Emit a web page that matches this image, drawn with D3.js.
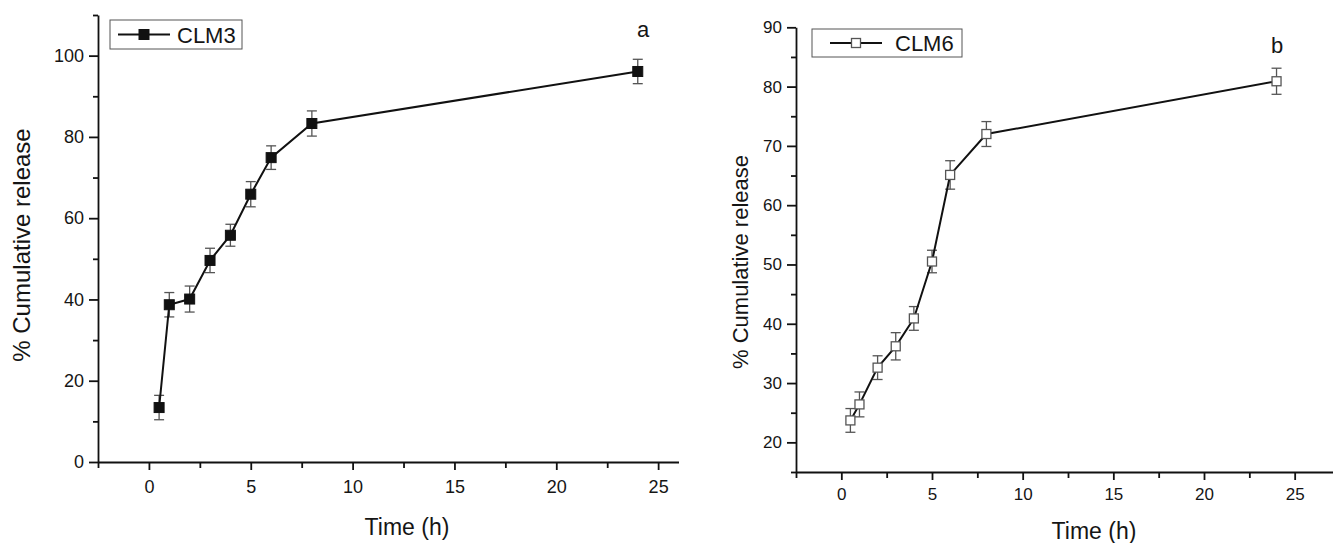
<!DOCTYPE html>
<html>
<head>
<meta charset="utf-8">
<script src="https://cdn.jsdelivr.net/npm/d3@7"></script>
<style>
  body { margin: 0; background: #fff; }
  svg text { font-family: "Liberation Sans", Arial, sans-serif; fill: #151515; }
</style>
</head>
<body>
<div id="release"></div>
<script>
// sampling times (h)
const time = [0.5, 1, 2, 3, 4, 5, 6, 8, 24]

// CLM3 (panel a)
const clm3 = [13.4, 38.7, 40.1, 49.6, 55.8, 65.9, 74.9, 83.3, 96.1]
const clm3_err = [3.0, 3.0, 3.2, 3.0, 2.7, 3.1, 2.9, 3.1, 3.0]

// CLM6 (panel b)
const clm6 = [23.7, 26.4, 32.6, 36.2, 40.9, 50.5, 65.1, 72.0, 80.9]
const clm6_err = [2.0, 2.1, 2.0, 2.3, 2.0, 1.9, 2.4, 2.1, 2.2]

const x_ticks = [0, 5, 10, 15, 20, 25]
const y_ticks_a = [0, 20, 40, 60, 80, 100]
const y_ticks_b = [20, 30, 40, 50, 60, 70, 80, 90]

const width = 1333, height = 543

const svg = d3.select("#release")
    .append("svg")
    .attr("width", width)
    .attr("height", height)
    .attr("viewBox", "0 0 " + width + " " + height)

// panel settings
const panels = [
    {
        name: "CLM3", letter: "a", values: clm3, err: clm3_err, filled: true,
        x: d3.scaleLinear().domain([-2.5, 26]).range([98, 678.5]),
        y: d3.scaleLinear().domain([0, 110]).range([462, 15]),
        yTicks: y_ticks_a, yMinor: d3.range(10, 111, 20),
        font: 18, titleFont: 24, titleX: 22, titleY: 245,
        xTitle: [407, 535], labelPad: 10,
        legend: { x: 110, y: 20, w: 132, h: 29 },
        letterPos: [643, 37]
    },
    {
        name: "CLM6", letter: "b", values: clm6, err: clm6_err, filled: false,
        x: d3.scaleLinear().domain([-2.5, 27.5]).range([796, 1340]),
        y: d3.scaleLinear().domain([15, 90]).range([472, 27.3]),
        yTicks: y_ticks_b, yMinor: d3.range(15, 90, 10),
        font: 17, titleFont: 22, titleX: 740, titleY: 262,
        xTitle: [1094, 539], labelPad: 8,
        legend: { x: 812, y: 29, w: 150, h: 28 },
        letterPos: [1277, 53]
    }
]

panels.forEach(function (p) {
    const g = svg.append("g")
    const x0 = p.x.range()[0], y0 = p.y.range()[0]

    // x axis, majors and minors
    const xa = g.append("g").attr("transform", "translate(0," + y0 + ")")
        .call(d3.axisBottom(p.x).tickValues(x_ticks).tickSize(8).tickPadding(p.labelPad).tickSizeOuter(0))
    xa.selectAll("text").style("font-size", p.font + "px")
    g.append("g").attr("transform", "translate(0," + y0 + ")")
        .call(d3.axisBottom(p.x).tickValues(d3.range(-2.5, 26, 5)).tickSize(6).tickFormat("").tickSizeOuter(0))
        .select(".domain").remove()

    // y axis
    const ya = g.append("g").attr("transform", "translate(" + x0 + ",0)")
        .call(d3.axisLeft(p.y).tickValues(p.yTicks).tickSize(9).tickPadding(5).tickSizeOuter(0))
    ya.selectAll("text").style("font-size", p.font + "px")
    g.append("g").attr("transform", "translate(" + x0 + ",0)")
        .call(d3.axisLeft(p.y).tickValues(p.yMinor).tickSize(5).tickFormat("").tickSizeOuter(0))
        .select(".domain").remove()

    g.selectAll(".domain, .tick line").attr("stroke", "#111").attr("stroke-width", 1.8)

    // axis titles
    g.append("text").attr("x", p.xTitle[0]).attr("y", p.xTitle[1])
        .attr("text-anchor", "middle").style("font-size", "23px").text("Time (h)")
    g.append("text")
        .attr("transform", "translate(" + p.titleX + "," + p.titleY + ") rotate(-90)")
        .attr("dy", "0.35em").attr("text-anchor", "middle")
        .style("font-size", p.titleFont + "px").text("% Cumulative release")

    const pts = time.map((t, i) => ({ t: t, v: p.values[i], e: p.err[i] }))

    // error bars
    const eb = g.selectAll(".eb").data(pts).join("g").attr("class", "eb")
        .attr("stroke", "#555").attr("stroke-width", 1.3)
    eb.append("line")
        .attr("x1", d => p.x(d.t)).attr("x2", d => p.x(d.t))
        .attr("y1", d => p.y(d.v - d.e)).attr("y2", d => p.y(d.v + d.e))
    eb.append("line")
        .attr("x1", d => p.x(d.t) - 5).attr("x2", d => p.x(d.t) + 5)
        .attr("y1", d => p.y(d.v + d.e)).attr("y2", d => p.y(d.v + d.e))
    eb.append("line")
        .attr("x1", d => p.x(d.t) - 5).attr("x2", d => p.x(d.t) + 5)
        .attr("y1", d => p.y(d.v - d.e)).attr("y2", d => p.y(d.v - d.e))

    // line
    const line = d3.line().x(d => p.x(d.t)).y(d => p.y(d.v))
    g.append("path").datum(pts).attr("d", line)
        .attr("fill", "none").attr("stroke", "#111").attr("stroke-width", 2)

    // markers
    const s = p.filled ? 10 : 9
    g.selectAll(".pt").data(pts).join("rect").attr("class", "pt")
        .attr("x", d => p.x(d.t) - s / 2).attr("y", d => p.y(d.v) - s / 2)
        .attr("width", s).attr("height", s)
        .attr("fill", p.filled ? "#111" : "#fff")
        .attr("stroke", p.filled ? "#111" : "#555")
        .attr("stroke-width", p.filled ? 1 : 1.3)

    // legend
    const L = p.legend
    const lg = g.append("g")
    lg.append("rect").attr("x", L.x).attr("y", L.y).attr("width", L.w).attr("height", L.h)
        .attr("fill", "#fff").attr("stroke", "#555").attr("stroke-width", 1)
    const ly = L.y + L.h / 2
    const lx1 = p.filled ? L.x + 8 : L.x + 18
    lg.append("line").attr("x1", lx1).attr("x2", lx1 + 52).attr("y1", ly).attr("y2", ly)
        .attr("stroke", "#111").attr("stroke-width", 2)
    lg.append("rect").attr("x", lx1 + 26 - s / 2).attr("y", ly - s / 2).attr("width", s).attr("height", s)
        .attr("fill", p.filled ? "#111" : "#fff")
        .attr("stroke", p.filled ? "#111" : "#555").attr("stroke-width", p.filled ? 1 : 1.3)
    lg.append("text").attr("x", lx1 + 59 + (p.filled ? 0 : 6)).attr("y", ly + 8)
        .style("font-size", "22px").text(p.name)

    // panel letter
    g.append("text").attr("x", p.letterPos[0]).attr("y", p.letterPos[1])
        .attr("text-anchor", "middle").style("font-size", "22px").text(p.letter)
})
</script>
</body>
</html>
